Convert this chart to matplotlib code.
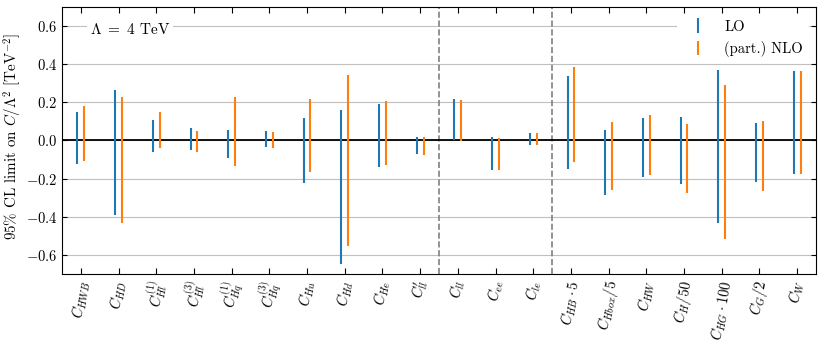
import matplotlib
matplotlib.use("Agg")
import matplotlib.pyplot as plt
import numpy as np

plt.rcParams['font.family'] = 'serif'
plt.rcParams['font.serif'] = ['cmr10', 'DejaVu Serif']
plt.rcParams['mathtext.fontset'] = 'cm'
plt.rcParams['axes.formatter.use_mathtext'] = True
plt.rcParams['axes.unicode_minus'] = True

labels = [r'$C_{HWB}$', r'$C_{HD}$', r'$C_{Hl}^{(1)}$', r'$C_{Hl}^{(3)}$',
          r'$C_{Hq}^{(1)}$', r'$C_{Hq}^{(3)}$', r'$C_{Hu}$', r'$C_{Hd}$',
          r'$C_{He}$', r"$C_{ll}'$", r'$C_{ll}$', r'$C_{ee}$', r'$C_{le}$',
          r'$C_{HB}\cdot 5$', r'$C_{Hbox}/5$', r'$C_{HW}$', r'$C_H/50$',
          r'$C_{HG}\cdot 100$', r'$C_G/2$', r'$C_W$']

lo_upper = [0.150, 0.263, 0.110, 0.065, 0.056, 0.049, 0.119, 0.160, 0.192, 0.019,
            0.216, 0.019, 0.038, 0.336, 0.056, 0.118, 0.123, 0.367, 0.092, 0.362]
lo_lower = [-0.124, -0.389, -0.058, -0.049, -0.094, -0.035, -0.223, -0.647, -0.141, -0.070,
            0.000, -0.157, -0.026, -0.150, -0.285, -0.191, -0.228, -0.431, -0.217, -0.174]
nlo_upper = [0.181, 0.230, 0.150, 0.051, 0.230, 0.045, 0.218, 0.344, 0.208, 0.017,
             0.212, 0.014, 0.040, 0.386, 0.099, 0.132, 0.085, 0.292, 0.101, 0.362]
nlo_lower = [-0.105, -0.433, -0.042, -0.061, -0.136, -0.040, -0.167, -0.555, -0.131, -0.075,
             -0.005, -0.157, -0.026, -0.111, -0.257, -0.183, -0.277, -0.515, -0.266, -0.176]

x = np.arange(len(labels))
off = 0.09

fig = plt.figure(figsize=(8.23, 3.48), dpi=100)
ax = fig.add_axes([0.0753, 0.2126, 0.9162, 0.7674])

ax.set_axisbelow(True)
ax.yaxis.grid(True, color='#c0c0c0', linewidth=0.8)
ax.axhline(0, color='black', linewidth=1.3, zorder=3)
for xv in (9.5, 12.5):
    ax.axvline(xv, color='gray', linestyle='--', linewidth=1.2, zorder=2)

lu = np.array(lo_upper); ll = np.array(lo_lower)
nu = np.array(nlo_upper); nl = np.array(nlo_lower)
ax.errorbar(x - off, np.zeros_like(lu), yerr=[-ll, lu], fmt='none',
            ecolor='#1f77b4', elinewidth=1.5, capsize=0, label='LO', zorder=4)
ax.errorbar(x + off, np.zeros_like(nu), yerr=[-nl, nu], fmt='none',
            ecolor='#ff7f0e', elinewidth=1.5, capsize=0, label='(part.) NLO', zorder=4)

ax.set_xlim(-0.5, 19.5)
ax.set_ylim(-0.7, 0.7)
ax.set_yticks([-0.6, -0.4, -0.2, 0.0, 0.2, 0.4, 0.6])
ax.set_xticks(x)
ax.set_xticklabels(labels, rotation=80, fontsize=11)
ax.tick_params(axis='both', direction='in', top=True, right=True, labelsize=10.5)
ax.tick_params(axis='x', length=4)
ax.set_ylabel(r'95% CL limit on $C/\Lambda^2$ [TeV$^{-2}$]', fontsize=10.8)
ax.yaxis.set_label_coords(-0.051, 0.515)

ax.text(0.037, 0.915, r'$\Lambda\ =\ 4$ TeV', transform=ax.transAxes, fontsize=11,
        va='center', ha='left', bbox=dict(facecolor='white', edgecolor='none', pad=2))

leg = ax.legend(loc='upper right', fontsize=10.5, frameon=True, fancybox=False,
                edgecolor='none', framealpha=1.0)

fig.savefig('out.png', dpi=100)
